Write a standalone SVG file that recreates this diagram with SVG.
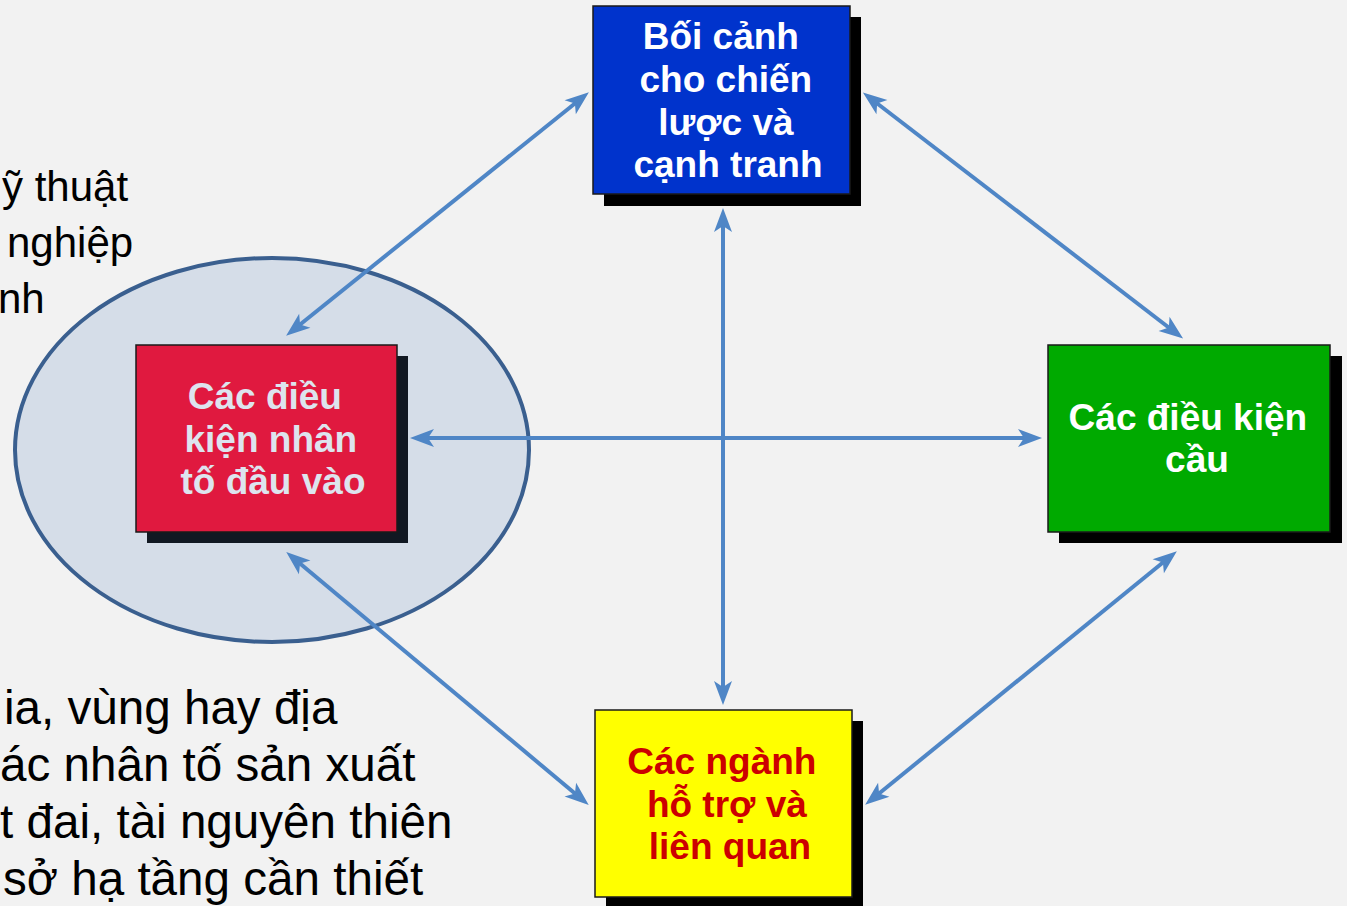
<svg xmlns="http://www.w3.org/2000/svg" width="1347" height="906" viewBox="0 0 1347 906">
  <defs>
    <style>
      .body { font-family: "Liberation Sans", Arial, sans-serif; fill: #000; }
      .upper { font-size: 42px; }
      .lower { font-size: 47.6px; }
      .lbl { font-family: "Liberation Sans", Arial, sans-serif; font-size: 37px; font-weight: bold; text-anchor: middle; }
      .box { stroke: #1a1a1a; stroke-width: 1.5; }
      .link { stroke: #4f86c6; stroke-width: 4; fill: none; marker-start: url(#head); marker-end: url(#head); }
    </style>
    <marker id="head" markerUnits="userSpaceOnUse" viewBox="-12 -12 36 24" refX="0" refY="0" markerWidth="36" markerHeight="24" orient="auto-start-reverse">
      <path d="M14,0 L-10,-9 L-4,0 L-10,9 Z" fill="#4f86c6"/>
    </marker>
  </defs>

  <rect width="1347" height="906" fill="#f2f2f2"/>

  <!-- highlighted region around the input-factor node -->
  <ellipse id="focus" cx="272" cy="450" rx="257" ry="192" fill="#d5dde8" stroke="#3a5f8f" stroke-width="4"/>

  <!-- explanatory text along the left edge -->
  <g id="notes" class="body">
    <text class="upper" x="2" y="201">ỹ thuật</text>
    <text class="upper" x="7" y="257">nghiệp</text>
    <text class="upper" x="-2" y="313">nh</text>
    <text class="lower" x="4" y="724">ia, vùng hay địa</text>
    <text class="lower" x="0" y="781">ác nhân tố sản xuất</text>
    <text class="lower" x="0" y="838">t đai, tài nguyên thiên</text>
    <text class="lower" x="3" y="895">sở hạ tầng cần thiết</text>
  </g>

  <!-- two-way connectors between the four nodes -->
  <g id="connectors">
    <line class="link" x1="297" y1="327" x2="578" y2="101"/>
    <line class="link" x1="874" y1="101" x2="1172" y2="330"/>
    <line class="link" x1="723" y1="222" x2="723" y2="691"/>
    <line class="link" x1="424" y1="438" x2="1028" y2="438"/>
    <line class="link" x1="297" y1="561" x2="578" y2="796"/>
    <line class="link" x1="1166" y1="560" x2="876" y2="796"/>
  </g>

  <g id="strategy">
    <rect x="604" y="17" width="257" height="189" fill="#000"/>
    <rect class="box" x="593" y="6" width="257" height="188" fill="#0033cc"/>
    <text class="lbl" fill="#ffffff">
      <tspan x="726" y="49">Bối cảnh</tspan>
      <tspan x="731" y="92">cho chiến</tspan>
      <tspan x="731" y="135">lược và</tspan>
      <tspan x="728" y="177">cạnh tranh</tspan>
    </text>
  </g>

  <g id="factors">
    <rect x="147" y="356" width="261" height="187" fill="#111822"/>
    <rect class="box" x="136" y="345" width="261" height="187" fill="#e0193f"/>
    <text class="lbl" fill="#dde4ee">
      <tspan x="270" y="409">Các điều</tspan>
      <tspan x="276" y="452">kiện nhân</tspan>
      <tspan x="273" y="494">tố đầu vào</tspan>
    </text>
  </g>

  <g id="demand">
    <rect x="1059" y="356" width="283" height="187" fill="#000"/>
    <rect class="box" x="1048" y="345" width="282" height="187" fill="#00aa00"/>
    <text class="lbl" fill="#ffffff">
      <tspan x="1193" y="430">Các điều kiện</tspan>
      <tspan x="1197" y="472">cầu</tspan>
    </text>
  </g>

  <g id="related">
    <rect x="606" y="721" width="257" height="190" fill="#000"/>
    <rect class="box" x="595" y="710" width="257" height="187" fill="#ffff00"/>
    <text class="lbl" fill="#cc0000">
      <tspan x="727" y="774">Các ngành</tspan>
      <tspan x="732" y="817">hỗ trợ và</tspan>
      <tspan x="730" y="859">liên quan</tspan>
    </text>
  </g>
</svg>
